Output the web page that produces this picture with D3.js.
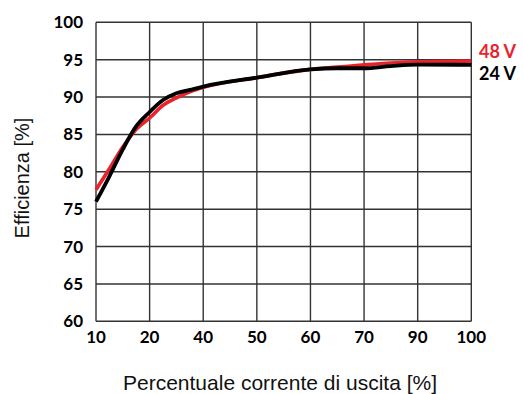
<!DOCTYPE html>
<html><head><meta charset="utf-8">
<script src="https://cdn.jsdelivr.net/npm/d3@7"></script>
<style>body{margin:0;background:#fff}svg{display:block}</style>
</head><body>
<svg id="c" width="523" height="394"></svg>
<script>
const xTicks = [10, 20, 40, 50, 60, 70, 90, 100];
const yTicks = [60, 65, 70, 75, 80, 85, 90, 95, 100];

const x24 = [10, 12.5, 15, 17.5, 20, 25, 30, 35, 40, 50, 60, 65, 70, 80, 90, 100];
const v24 = [76.0, 79.4, 83.0, 86.1, 88.0, 89.6, 90.5, 90.95, 91.4, 92.6, 93.7, 93.85, 93.85, 94.15, 94.35, 94.3];
const x48 = [10, 12.5, 15, 17.5, 20, 25, 30, 35, 40, 50, 60, 65, 70, 80, 90, 100];
const v48 = [77.6, 80.4, 83.3, 85.7, 87.2, 88.9, 89.9, 90.7, 91.3, 92.6, 93.7, 94.0, 94.3, 94.55, 94.7, 94.8];
const seriesNames = ["48 V", "24 V"];

const L = 96, R = 471.3, T = 22.3, B = 321.3;
const svg = d3.select("#c");
const x = d3.scaleLinear()
  .domain(xTicks)
  .range(xTicks.map((d, i) => L + i * (R - L) / (xTicks.length - 1)));
const y = d3.scaleLinear().domain([60, 100]).range([B, T]);

const grid = svg.append("g");
grid.selectAll("line.v").data(xTicks).join("line")
  .attr("x1", d => x(d)).attr("x2", d => x(d)).attr("y1", T).attr("y2", B)
  .attr("stroke", "#333").attr("stroke-width", 1.4);
grid.selectAll("line.h").data(yTicks).join("line")
  .attr("y1", d => y(d)).attr("y2", d => y(d)).attr("x1", L).attr("x2", R)
  .attr("stroke", "#333").attr("stroke-width", 1.4);

const tf = "Lato, 'Liberation Sans', sans-serif";
svg.append("g").selectAll("text").data(yTicks).join("text")
  .attr("x", 83).attr("y", d => y(d)).attr("dy", "0.35em")
  .attr("text-anchor", "end").attr("font-family", tf).attr("font-weight", "bold")
  .attr("font-size", 17).attr("fill", "#000").text(d => d);
svg.append("g").selectAll("text").data(xTicks).join("text")
  .attr("x", d => x(d)).attr("y", 343)
  .attr("text-anchor", "middle").attr("font-family", tf).attr("font-weight", "bold")
  .attr("font-size", 17).attr("fill", "#000").text(d => d);

const line = d3.line().x(d => x(d[0])).y(d => y(d[1])).curve(d3.curveMonotoneX);
svg.append("path").datum(x48.map((d, i) => [d, v48[i]]))
  .attr("d", line).attr("fill", "none").attr("stroke", "#e8232b").attr("stroke-width", 3.6);
svg.append("path").datum(x24.map((d, i) => [d, v24[i]]))
  .attr("d", line).attr("fill", "none").attr("stroke", "#000").attr("stroke-width", 3.8);

svg.append("text").attr("x", 479).attr("y", 58).attr("font-family", tf).attr("font-weight", "bold")
  .attr("font-size", 18).attr("fill", "#e8232b").text(seriesNames[0]);
svg.append("text").attr("x", 479).attr("y", 80).attr("font-family", tf).attr("font-weight", "bold")
  .attr("font-size", 18).attr("fill", "#000").text(seriesNames[1]);

const af = "'Liberation Sans', Arial, sans-serif";
svg.append("text").attr("x", 280).attr("y", 390).attr("text-anchor", "middle")
  .attr("font-family", af).attr("font-size", 21).attr("fill", "#111")
  .text("Percentuale corrente di uscita [%]");
svg.append("text").attr("transform", "translate(29,178) rotate(-90)").attr("text-anchor", "middle")
  .attr("font-family", af).attr("font-size", 20).attr("fill", "#111")
  .text("Efficienza [%]");
</script>
</body></html>
